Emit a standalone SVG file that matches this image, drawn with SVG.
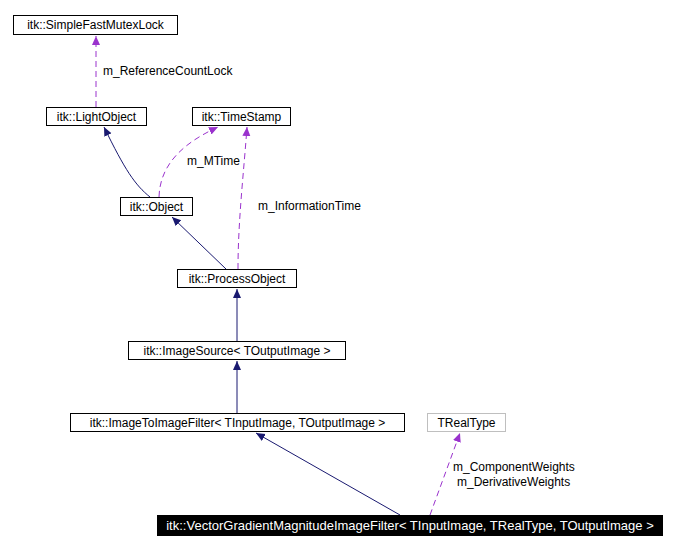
<svg xmlns="http://www.w3.org/2000/svg" width="674" height="550" viewBox="0 0 674 550">
<style>
text{font-family:"Liberation Sans",Arial,sans-serif;font-size:12px;fill:#000}
.n{fill:#fff;stroke:#000;stroke-width:1}
.c{text-anchor:middle}
.inh{fill:none;stroke:#191970;stroke-width:1}
.use{fill:none;stroke:#9a32cd;stroke-width:1;stroke-dasharray:6,4}
</style>
<defs>
<marker id="ai" markerWidth="10" markerHeight="10" refX="9" refY="5" orient="auto" markerUnits="userSpaceOnUse"><path d="M0,1 L9,5 L0,9 Z" fill="#191970"/></marker>
<marker id="au" markerWidth="10" markerHeight="10" refX="9" refY="5" orient="auto" markerUnits="userSpaceOnUse"><path d="M0,1 L9,5 L0,9 Z" fill="#9a32cd"/></marker>
</defs>
<rect width="674" height="550" fill="#fff"/>
<g id="connectors">
<path class="use" d="M96,107 L96,36" marker-end="url(#au)"/>
<text x="103" y="75">m_ReferenceCountLock</text>
<path class="inh" d="M150,197 C135,185 125,170 104,127" marker-end="url(#ai)"/>
<path class="use" d="M159,197 C160,160 190,140 218,127" marker-end="url(#au)"/>
<text x="187" y="165">m_MTime</text>
<path class="inh" d="M226,269 L172,217" marker-end="url(#ai)"/>
<path class="use" d="M238,269 C238,220 244,170 247,127" marker-end="url(#au)"/>
<text x="258" y="210">m_InformationTime</text>
<path class="inh" d="M237,341 L237,289" marker-end="url(#ai)"/>
<path class="inh" d="M237,413 L237,361" marker-end="url(#ai)"/>
<path class="inh" d="M400,515 L256,433" marker-end="url(#ai)"/>
<path class="use" d="M430,515 L460,433" marker-end="url(#au)"/>
<text x="453" y="471">m_ComponentWeights</text>
<text x="457" y="486">m_DerivativeWeights</text>
</g>
<g id="mutex"><rect class="n" x="13.5" y="15.5" width="164" height="19"/><text class="c" x="95.5" y="29">itk::SimpleFastMutexLock</text></g>
<g id="lightobject"><rect class="n" x="46.5" y="107.5" width="100" height="18"/><text class="c" x="96.5" y="121">itk::LightObject</text></g>
<g id="timestamp"><rect class="n" x="192.5" y="107.5" width="98" height="18"/><text class="c" x="241.5" y="121">itk::TimeStamp</text></g>
<g id="object"><rect class="n" x="120.5" y="197.5" width="72" height="18"/><text class="c" x="156.5" y="211">itk::Object</text></g>
<g id="processobject"><rect class="n" x="177.5" y="269.5" width="119" height="18"/><text class="c" x="237" y="283">itk::ProcessObject</text></g>
<g id="imagesource"><rect class="n" x="128.5" y="341.5" width="217" height="18"/><text class="c" x="237" y="355">itk::ImageSource&lt; TOutputImage &gt;</text></g>
<g id="imagetoimage"><rect class="n" x="70.5" y="413.5" width="334" height="18"/><text class="c" x="237.5" y="427">itk::ImageToImageFilter&lt; TInputImage, TOutputImage &gt;</text></g>
<g id="trealtype"><rect x="427.5" y="413.5" width="78" height="18" fill="#fff" stroke="#bfbfbf"/><text class="c" x="466.5" y="427">TRealType</text></g>
<g id="vgm"><rect x="157" y="515" width="506" height="21" fill="#000"/><text class="c" x="410" y="530" style="fill:#fff;font-size:13px">itk::VectorGradientMagnitudeImageFilter&lt; TInputImage, TRealType, TOutputImage &gt;</text></g>
</svg>
